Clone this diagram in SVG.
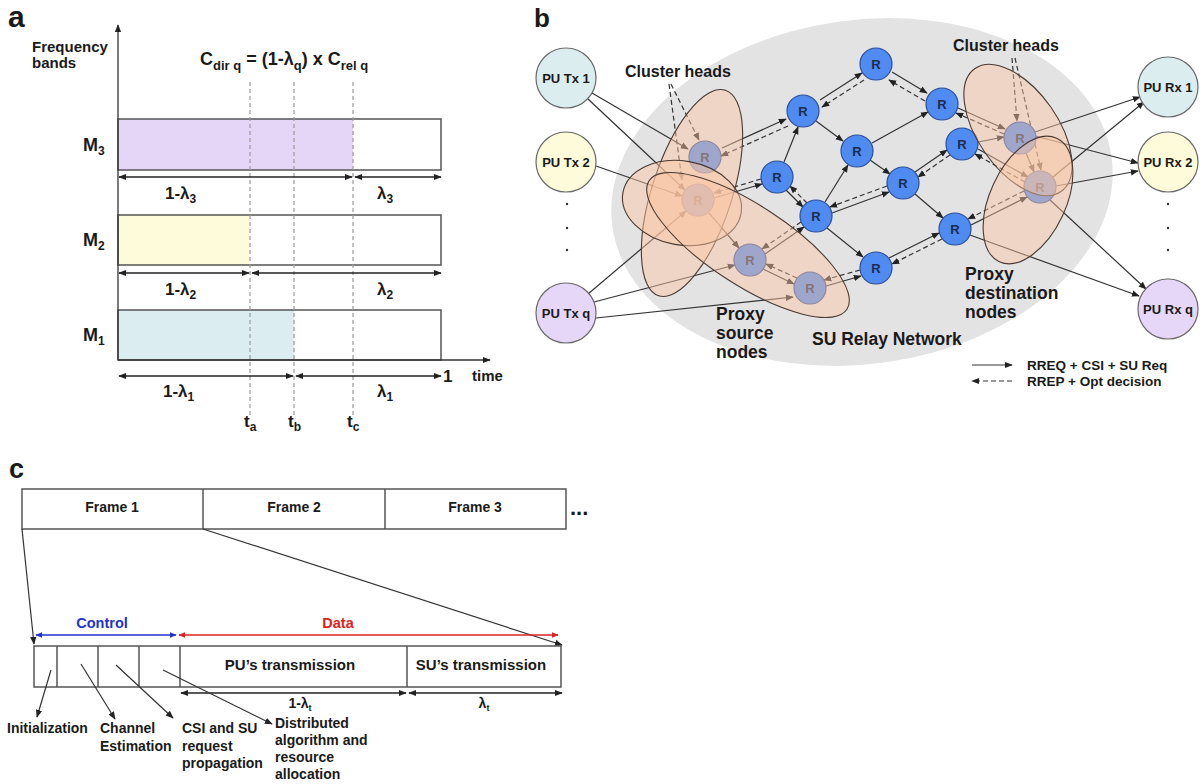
<svg xmlns="http://www.w3.org/2000/svg" width="1200" height="784" viewBox="0 0 1200 784">
<defs>
<style>
.t{font-family:"Liberation Sans",Arial,sans-serif;font-weight:bold;fill:#1a1a1a}
.box{fill:none;stroke:#555;stroke-width:1.5}
.vd{stroke:#9a9a9a;stroke-width:1.2;stroke-dasharray:4 3;fill:none}
.dim{stroke:#222;stroke-width:1.3;fill:none;marker-start:url(#ah);marker-end:url(#ah)}
.ax{stroke:#333;stroke-width:1.3;fill:none;marker-end:url(#ah)}
.s{stroke:#333;stroke-width:1.2;fill:none;marker-end:url(#ah)}
.d{stroke:#333;stroke-width:1.2;fill:none;stroke-dasharray:5 3;marker-end:url(#ah)}
.rn{fill:#4f8bf0;stroke:#2b4f9a;stroke-width:1.2}
.rt{font-family:"Liberation Sans",Arial,sans-serif;font-weight:bold;font-size:13px;fill:#1b2c4f;text-anchor:middle}
.pu{stroke:#6a6a6a;stroke-width:1.2}
.put{font-family:"Liberation Sans",Arial,sans-serif;font-weight:bold;font-size:13px;fill:#1a1a1a;text-anchor:middle}
.pe{fill:#fbc6a4;fill-opacity:0.47;stroke:#4a3a32;stroke-width:1.1}
</style>
<marker id="ah" viewBox="0 0 10 10" refX="9" refY="5" markerWidth="8" markerHeight="8" markerUnits="userSpaceOnUse" orient="auto-start-reverse"><path d="M0,1 L10,5 L0,9 z" fill="#222"/></marker>
<marker id="ahb" viewBox="0 0 10 10" refX="9" refY="5" markerWidth="7" markerHeight="7" markerUnits="userSpaceOnUse" orient="auto-start-reverse"><path d="M0,1 L10,5 L0,9 z" fill="#2233cc"/></marker>
<marker id="ahr" viewBox="0 0 10 10" refX="9" refY="5" markerWidth="7" markerHeight="7" markerUnits="userSpaceOnUse" orient="auto-start-reverse"><path d="M0,1 L10,5 L0,9 z" fill="#dd2222"/></marker>
</defs>
<rect width="1200" height="784" fill="#ffffff"/>

<!-- ===== Panel a ===== -->
<g id="panel-a">
<text class="t" x="8" y="27" font-size="30">a</text>
<text class="t" x="32" y="52" font-size="15">Frequency</text>
<text class="t" x="32" y="68" font-size="15">bands</text>
<text class="t" x="200" y="65" font-size="18">C<tspan font-size="13" dy="5">dir q</tspan><tspan dy="-5"> = (1-λ</tspan><tspan font-size="13" dy="5">q</tspan><tspan dy="-5">) x C</tspan><tspan font-size="13" dy="5">rel q</tspan></text>
<g id="band-m3">
<rect x="118" y="119" width="235" height="51" fill="#e5d5f7"/>
<rect class="box" x="118" y="119" width="323" height="51"/>
<text class="t" x="83" y="151" font-size="18">M<tspan font-size="12" dy="4">3</tspan></text>
</g>
<g id="band-m2">
<rect x="118" y="215" width="132" height="50" fill="#fdfbd9"/>
<rect class="box" x="118" y="215" width="323" height="50"/>
<text class="t" x="83" y="246" font-size="18">M<tspan font-size="12" dy="4">2</tspan></text>
</g>
<g id="band-m1">
<rect x="118" y="310" width="176" height="50" fill="#dbedf0"/>
<rect class="box" x="118" y="310" width="323" height="50"/>
<text class="t" x="83" y="341" font-size="18">M<tspan font-size="12" dy="4">1</tspan></text>
</g>
<line class="vd" x1="250" y1="82" x2="250" y2="415"/>
<line class="vd" x1="294" y1="82" x2="294" y2="415"/>
<line class="vd" x1="353" y1="82" x2="353" y2="415"/>
<line class="ax" x1="118" y1="360" x2="118" y2="25"/>
<line class="ax" x1="118" y1="360" x2="490" y2="360"/>
<line class="dim" x1="119" y1="177" x2="352" y2="177"/>
<line class="dim" x1="355" y1="177" x2="441" y2="177"/>
<line class="dim" x1="119" y1="273" x2="249" y2="273"/>
<line class="dim" x1="252" y1="273" x2="441" y2="273"/>
<line class="dim" x1="119" y1="376" x2="293" y2="376"/>
<line class="dim" x1="296" y1="376" x2="441" y2="376"/>
<text class="t" x="165" y="199" font-size="17">1-λ<tspan font-size="12" dy="4">3</tspan></text>
<text class="t" x="377" y="199" font-size="17">λ<tspan font-size="12" dy="4">3</tspan></text>
<text class="t" x="165" y="295" font-size="17">1-λ<tspan font-size="12" dy="4">2</tspan></text>
<text class="t" x="377" y="295" font-size="17">λ<tspan font-size="12" dy="4">2</tspan></text>
<text class="t" x="163" y="397" font-size="17">1-λ<tspan font-size="12" dy="4">1</tspan></text>
<text class="t" x="377" y="397" font-size="17">λ<tspan font-size="12" dy="4">1</tspan></text>
<text class="t" x="443" y="382" font-size="17">1</text>
<text class="t" x="472" y="381" font-size="15">time</text>
<text class="t" x="244" y="427" font-size="17">t<tspan font-size="12" dy="4">a</tspan></text>
<text class="t" x="288" y="427" font-size="17">t<tspan font-size="12" dy="4">b</tspan></text>
<text class="t" x="347" y="427" font-size="17">t<tspan font-size="12" dy="4">c</tspan></text>
</g>

<!-- ===== Panel b ===== -->
<g id="panel-b">
<text class="t" x="534" y="27" font-size="26">b</text>
<ellipse id="su-relay-area" cx="862" cy="192" rx="252" ry="172" transform="rotate(-8 862 192)" fill="#e3e3e3"/>

<g id="connectors">
<!-- cluster-head label pointers -->
<line class="d" x1="669" y1="84" x2="682" y2="180"/>
<line class="d" x1="671" y1="84" x2="699" y2="140"/>
<line class="d" x1="1012" y1="58" x2="1017" y2="121"/>
<line class="d" x1="1015" y1="58" x2="1041" y2="170"/>
<!-- PU Tx to cluster heads -->
<line class="s" x1="592" y1="93" x2="688" y2="149"/>
<line class="s" x1="588" y1="99" x2="685" y2="190"/>
<line class="s" x1="596" y1="166" x2="682" y2="196"/>
<line class="s" x1="588" y1="294" x2="686" y2="211"/>
<line class="s" x1="594" y1="302" x2="735" y2="265"/>
<line class="s" x1="596" y1="318" x2="793" y2="297"/>
<!-- proxy source internal -->
<line class="s" x1="709" y1="213" x2="739" y2="248"/>
<line class="s" x1="763" y1="269" x2="794" y2="284"/>
<line class="d" x1="797" y1="278" x2="766" y2="264"/>
<!-- relay network -->
<line class="s" x1="722" y1="148" x2="786" y2="119"/>
<line class="d" x1="788" y1="126" x2="721" y2="156"/>
<line class="s" x1="714" y1="198" x2="762" y2="184"/>
<line class="d" x1="761" y1="179" x2="714" y2="193"/>
<line class="s" x1="820" y1="100" x2="862" y2="73"/>
<line class="d" x1="864" y1="80" x2="822" y2="107"/>
<line class="s" x1="892" y1="72" x2="927" y2="93"/>
<line class="d" x1="925" y1="101" x2="889" y2="80"/>
<line class="s" x1="816" y1="121" x2="843" y2="141"/>
<line class="s" x1="872" y1="143" x2="928" y2="112"/>
<line class="s" x1="958" y1="108" x2="1005" y2="129"/>
<line class="d" x1="1004" y1="134" x2="956" y2="113"/>
<line class="s" x1="978" y1="142" x2="1004" y2="137"/>
<line class="s" x1="784" y1="162" x2="798" y2="127"/>
<line class="s" x1="786" y1="190" x2="803" y2="207"/>
<line class="d" x1="807" y1="203" x2="790" y2="186"/>
<line class="s" x1="870" y1="160" x2="890" y2="174"/>
<line class="s" x1="825" y1="202" x2="848" y2="165"/>
<line class="s" x1="915" y1="172" x2="947" y2="150"/>
<line class="d" x1="950" y1="155" x2="918" y2="177"/>
<line class="s" x1="832" y1="213" x2="889" y2="192"/>
<line class="d" x1="887" y1="186" x2="830" y2="207"/>
<line class="s" x1="765" y1="254" x2="804" y2="227"/>
<line class="d" x1="801" y1="222" x2="762" y2="249"/>
<line class="s" x1="827" y1="228" x2="863" y2="257"/>
<line class="s" x1="826" y1="286" x2="861" y2="276"/>
<line class="d" x1="860" y1="270" x2="824" y2="280"/>
<line class="s" x1="889" y1="258" x2="939" y2="233"/>
<line class="d" x1="942" y1="239" x2="892" y2="264"/>
<line class="s" x1="915" y1="194" x2="943" y2="218"/>
<line class="s" x1="971" y1="225" x2="1027" y2="197"/>
<line class="d" x1="1024" y1="191" x2="968" y2="219"/>
<line class="s" x1="978" y1="149" x2="1028" y2="177"/>
<line class="d" x1="1025" y1="182" x2="975" y2="154"/>
<line class="s" x1="1026" y1="153" x2="1034" y2="172"/>
<!-- to PU Rx -->
<line class="s" x1="1035" y1="132" x2="1140" y2="97"/>
<line class="s" x1="1035" y1="136" x2="1138" y2="163"/>
<line class="s" x1="1053" y1="177" x2="1144" y2="102"/>
<line class="s" x1="1056" y1="186" x2="1138" y2="171"/>
<line class="s" x1="1050" y1="200" x2="1146" y2="289"/>
<line class="s" x1="970" y1="235" x2="1139" y2="296"/>
</g>

<g id="pu-tx-1"><circle class="pu" cx="566" cy="78" r="30" fill="#dcedf0"/><text class="put" x="566" y="83">PU Tx 1</text></g>
<g id="pu-tx-2"><circle class="pu" cx="566" cy="162" r="30" fill="#fdfbd9"/><text class="put" x="566" y="167">PU Tx 2</text></g>
<g id="pu-tx-q"><circle class="pu" cx="566" cy="313" r="30" fill="#e6d7f8"/><text class="put" x="566" y="318">PU Tx q</text></g>
<g id="pu-rx-1"><circle class="pu" cx="1168" cy="87" r="30" fill="#dcedf0"/><text class="put" x="1168" y="92">PU Rx 1</text></g>
<g id="pu-rx-2"><circle class="pu" cx="1168" cy="162" r="30" fill="#fdfbd9"/><text class="put" x="1168" y="167">PU Rx 2</text></g>
<g id="pu-rx-q"><circle class="pu" cx="1168" cy="309" r="30" fill="#e6d7f8"/><text class="put" x="1168" y="314">PU Rx q</text></g>
<g id="tx-dots" fill="#333"><circle cx="567" cy="204" r="1.2"/><circle cx="567" cy="228" r="1.2"/><circle cx="567" cy="250" r="1.2"/></g>
<g id="rx-dots" fill="#333"><circle cx="1168" cy="204" r="1.2"/><circle cx="1168" cy="228" r="1.2"/><circle cx="1168" cy="250" r="1.2"/></g>

<g id="r1"><circle class="rn" cx="876" cy="64" r="16"/><text class="rt" x="876" y="69">R</text></g>
<g id="r2"><circle class="rn" cx="803" cy="111" r="16"/><text class="rt" x="803" y="116">R</text></g>
<g id="r3"><circle class="rn" cx="942" cy="104" r="16"/><text class="rt" x="942" y="109">R</text></g>
<g id="r4"><circle class="rn" cx="857" cy="151" r="16"/><text class="rt" x="857" y="156">R</text></g>
<g id="r5"><circle class="rn" cx="962" cy="144" r="16"/><text class="rt" x="962" y="149">R</text></g>
<g id="r6"><circle class="rn" cx="777" cy="177" r="16"/><text class="rt" x="777" y="182">R</text></g>
<g id="r7"><circle class="rn" cx="903" cy="183" r="16"/><text class="rt" x="903" y="188">R</text></g>
<g id="r8"><circle class="rn" cx="816" cy="216" r="16"/><text class="rt" x="816" y="221">R</text></g>
<g id="r9"><circle class="rn" cx="955" cy="229" r="16"/><text class="rt" x="955" y="234">R</text></g>
<g id="r10"><circle class="rn" cx="876" cy="268" r="16"/><text class="rt" x="876" y="273">R</text></g>
<g id="ch-src-1"><circle class="rn" cx="705" cy="157" r="16"/><text class="rt" x="705" y="162">R</text></g>
<g id="ch-src-2"><circle class="rn" cx="698" cy="200" r="16"/><text class="rt" x="698" y="205">R</text></g>
<g id="proxy-src-1"><circle class="rn" cx="750" cy="260" r="16"/><text class="rt" x="750" y="265">R</text></g>
<g id="proxy-src-2"><circle class="rn" cx="810" cy="288" r="16"/><text class="rt" x="810" y="293">R</text></g>
<g id="ch-dst-1"><circle class="rn" cx="1020" cy="138" r="16"/><text class="rt" x="1020" y="143">R</text></g>
<g id="ch-dst-2"><circle class="rn" cx="1040" cy="187" r="16"/><text class="rt" x="1040" y="192">R</text></g>

<g id="clusters">
<ellipse class="pe" cx="692" cy="193" rx="40" ry="108" transform="rotate(18 692 193)"/>
<ellipse class="pe" cx="682" cy="203" rx="60" ry="42" transform="rotate(10 682 203)"/>
<ellipse class="pe" cx="748" cy="245" rx="118" ry="40" transform="rotate(33 748 245)"/>
<ellipse class="pe" cx="1018" cy="130" rx="40" ry="75" transform="rotate(-35 1018 130)"/>
<ellipse class="pe" cx="1028" cy="200" rx="38" ry="68" transform="rotate(25 1028 200)"/>
</g>

<text class="t" x="625" y="77" font-size="16">Cluster heads</text>
<text class="t" x="953" y="51" font-size="16">Cluster heads</text>
<text class="t" x="716" y="320" font-size="17.5">Proxy</text>
<text class="t" x="716" y="339" font-size="17.5">source</text>
<text class="t" x="716" y="358" font-size="17.5">nodes</text>
<text class="t" x="812" y="345" font-size="17.5">SU Relay Network</text>
<text class="t" x="965" y="280" font-size="17.5">Proxy</text>
<text class="t" x="965" y="299" font-size="17.5">destination</text>
<text class="t" x="965" y="318" font-size="17.5">nodes</text>
<g id="legend">
<line class="s" x1="972" y1="365" x2="1012" y2="365"/>
<line class="d" x1="1012" y1="381" x2="972" y2="381"/>
<text class="t" x="1027" y="370" font-size="13.5">RREQ + CSI + SU Req</text>
<text class="t" x="1027" y="386" font-size="13.5">RREP + Opt decision</text>
</g>
</g>

<!-- ===== Panel c ===== -->
<g id="panel-c">
<text class="t" x="9" y="478" font-size="27">c</text>
<g id="frames">
<rect class="box" x="22" y="489" width="544" height="40"/>
<line class="box" x1="203" y1="489" x2="203" y2="529"/>
<line class="box" x1="385" y1="489" x2="385" y2="529"/>
<text class="t" x="112" y="512" font-size="14" text-anchor="middle">Frame 1</text>
<text class="t" x="294" y="512" font-size="14" text-anchor="middle">Frame 2</text>
<text class="t" x="475" y="512" font-size="14" text-anchor="middle">Frame 3</text>
<text class="t" x="570" y="515" font-size="22">...</text>
</g>
<line class="s" x1="22" y1="529" x2="34" y2="644"/>
<line class="s" x1="203" y1="529" x2="562" y2="645"/>
<line x1="36" y1="635" x2="176" y2="635" stroke="#2233cc" stroke-width="1.4" marker-start="url(#ahb)" marker-end="url(#ahb)"/>
<line x1="179" y1="635" x2="558" y2="635" stroke="#dd2222" stroke-width="1.4" marker-start="url(#ahr)" marker-end="url(#ahr)"/>
<text class="t" x="102" y="628" font-size="14.5" text-anchor="middle" style="fill:#2233cc">Control</text>
<text class="t" x="338" y="628" font-size="14.5" text-anchor="middle" style="fill:#dd2222">Data</text>
<g id="frame-detail">
<rect class="box" x="34" y="646" width="527" height="41"/>
<line class="box" x1="57" y1="646" x2="57" y2="687"/>
<line class="box" x1="98" y1="646" x2="98" y2="687"/>
<line class="box" x1="139" y1="646" x2="139" y2="687"/>
<line class="box" x1="180" y1="646" x2="180" y2="687"/>
<line class="box" x1="407" y1="646" x2="407" y2="687"/>
<text class="t" x="290" y="670" font-size="15" text-anchor="middle">PU’s transmission</text>
<text class="t" x="481" y="670" font-size="15" text-anchor="middle">SU’s transmission</text>
</g>
<line class="dim" x1="181" y1="693" x2="406" y2="693"/>
<line class="dim" x1="409" y1="693" x2="562" y2="693"/>
<text class="t" x="300" y="708" font-size="14" text-anchor="middle">1-λ<tspan font-size="9" dy="3">t</tspan></text>
<text class="t" x="484" y="708" font-size="14" text-anchor="middle">λ<tspan font-size="9" dy="3">t</tspan></text>
<line class="s" x1="51" y1="670" x2="37" y2="717"/>
<line class="s" x1="81" y1="664" x2="115" y2="719"/>
<line class="s" x1="116" y1="665" x2="173" y2="718"/>
<line class="s" x1="163" y1="670" x2="272" y2="724"/>
<text class="t" x="7" y="733" font-size="14">Initialization</text>
<text class="t" x="100" y="733" font-size="14">Channel</text>
<text class="t" x="100" y="751" font-size="14">Estimation</text>
<text class="t" x="182" y="733" font-size="14">CSI and SU</text>
<text class="t" x="182" y="751" font-size="14">request</text>
<text class="t" x="182" y="768" font-size="14">propagation</text>
<text class="t" x="275" y="728" font-size="14">Distributed</text>
<text class="t" x="275" y="745" font-size="14">algorithm and</text>
<text class="t" x="275" y="762" font-size="14">resource</text>
<text class="t" x="275" y="779" font-size="14">allocation</text>
</g>
</svg>
